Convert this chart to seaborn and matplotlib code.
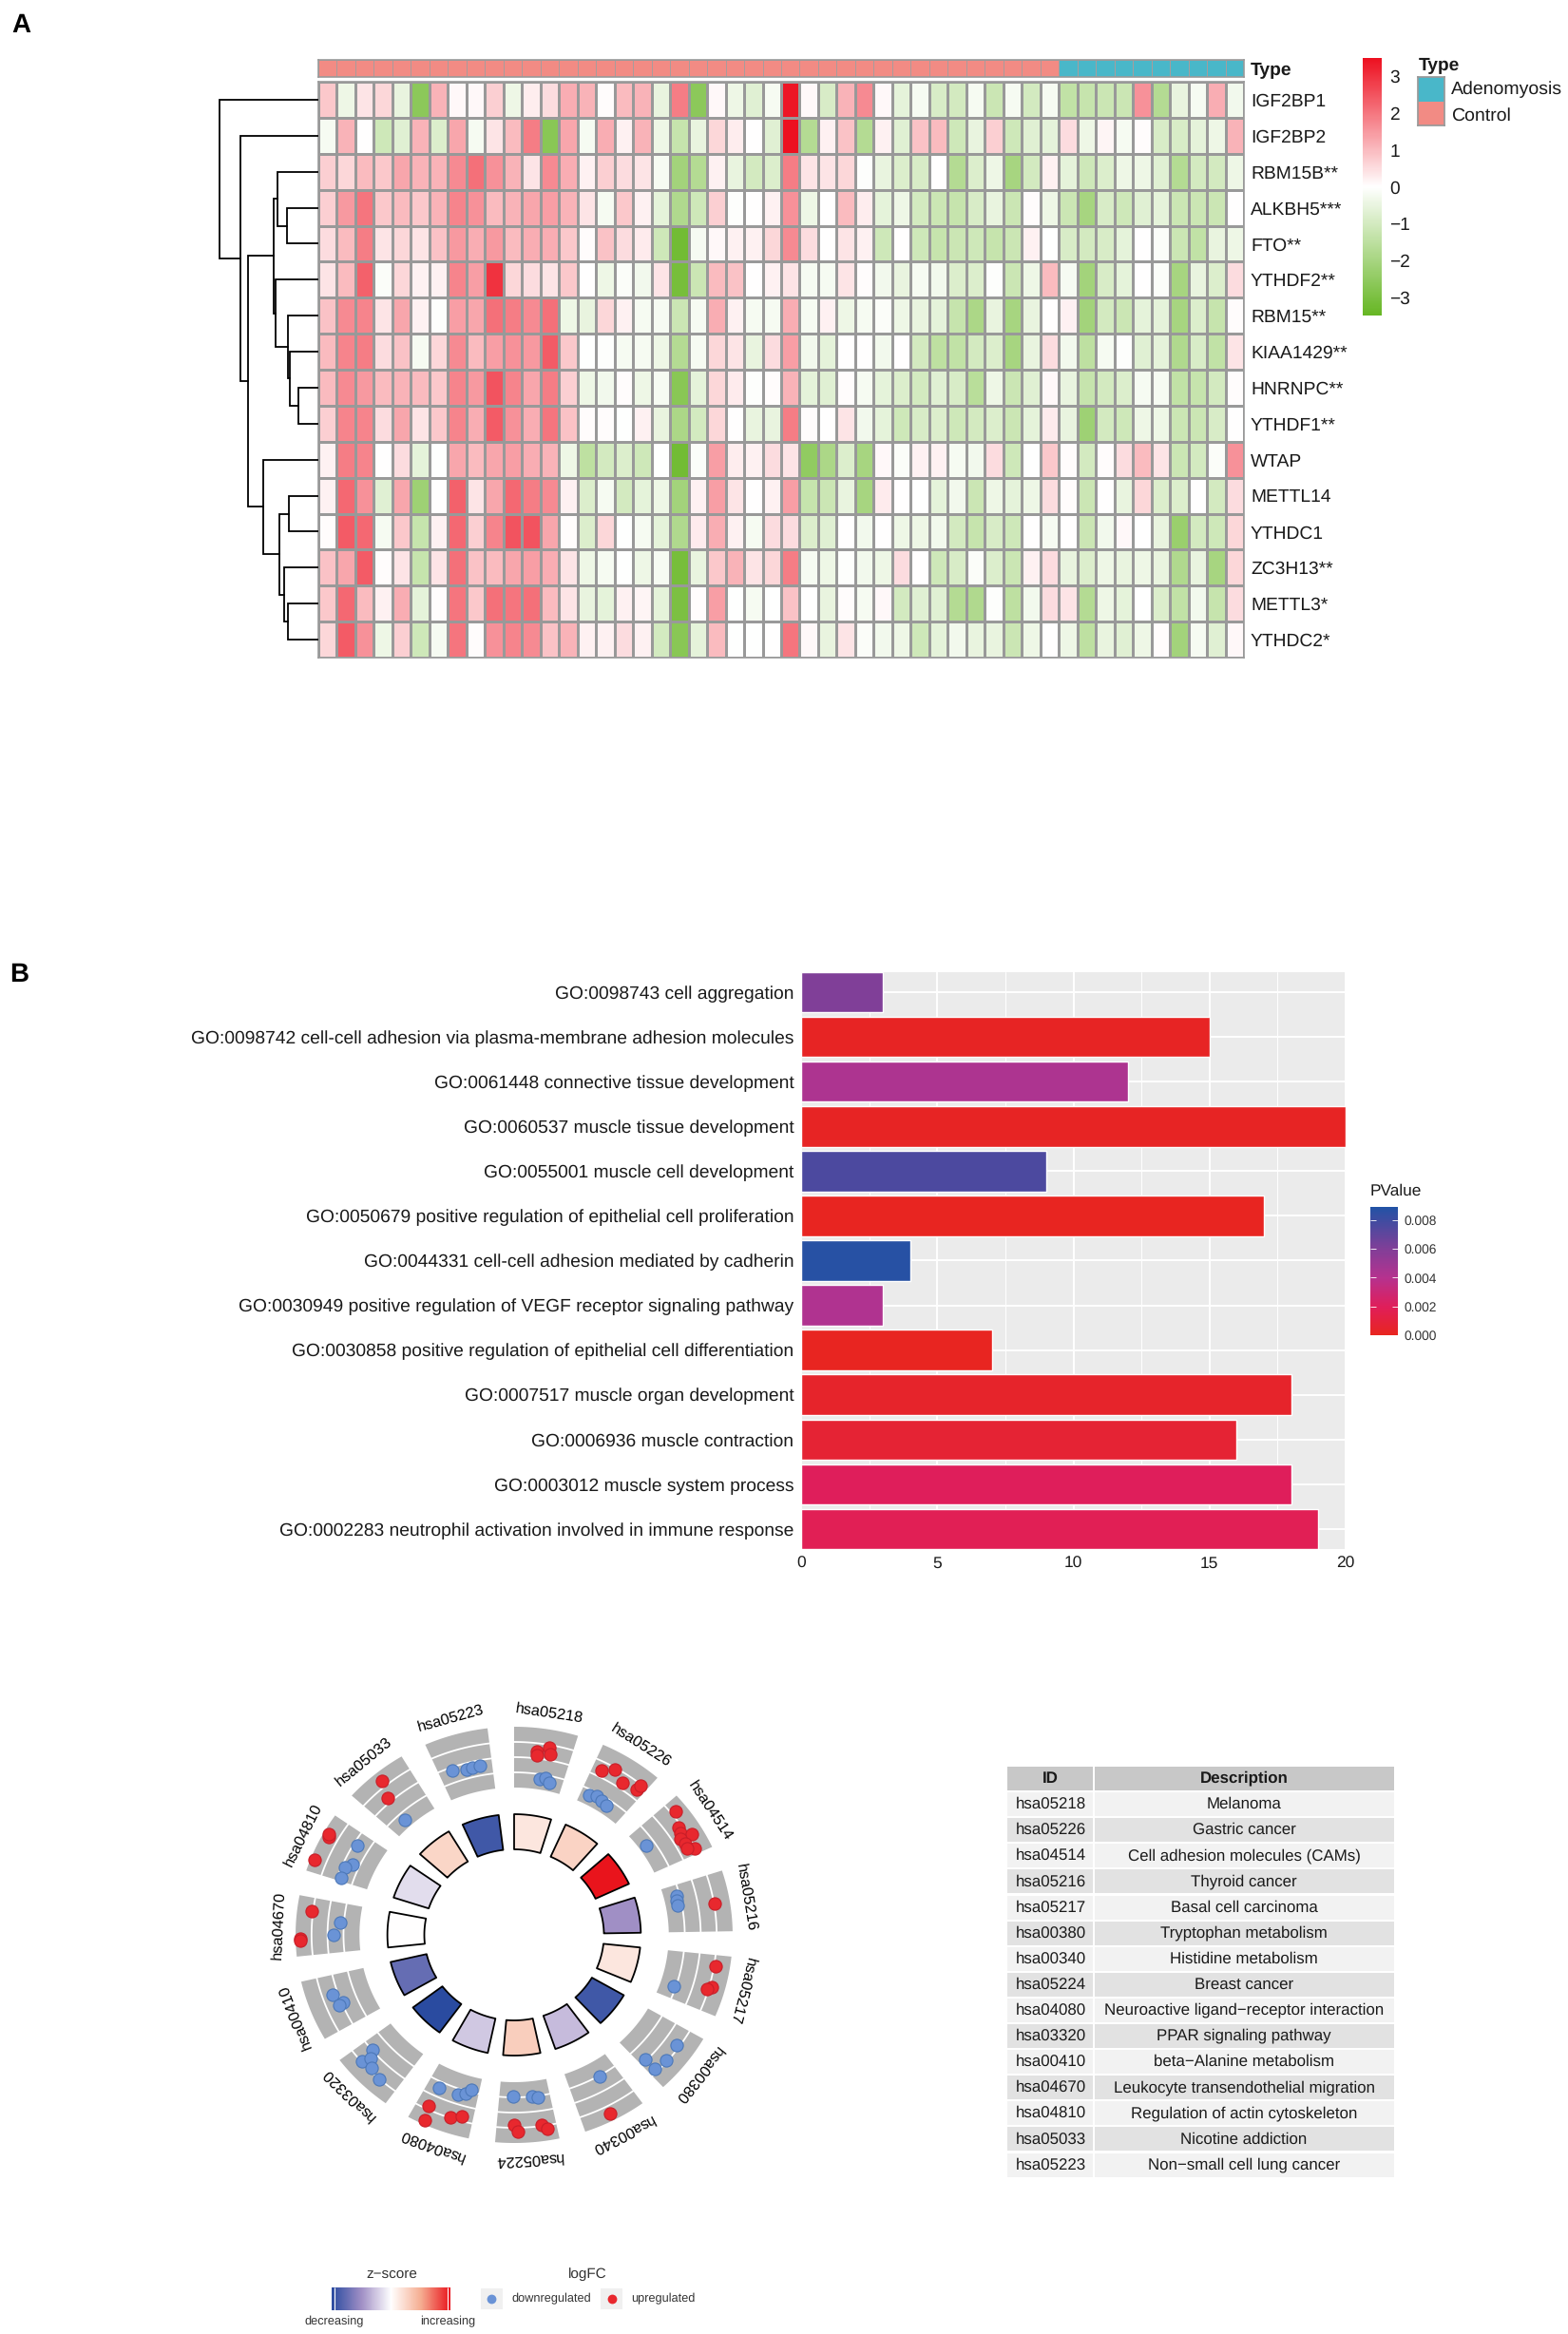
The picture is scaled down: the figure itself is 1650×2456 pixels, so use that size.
"""Three panel figure: m6A regulator heatmap, GO bars and KEGG circle with table."""

import math

import matplotlib
matplotlib.use("Agg")
import matplotlib.pyplot as plt
import numpy as np
import pandas as pd
import seaborn as sns
from matplotlib.cm import ScalarMappable
from matplotlib.colors import LinearSegmentedColormap, ListedColormap, Normalize
from matplotlib.patches import Rectangle

GENES = ["IGF2BP1", "IGF2BP2", "RBM15B**", "ALKBH5***", "FTO**", "YTHDF2**", "RBM15**", "KIAA1429**",
         "HNRNPC**", "YTHDF1**", "WTAP", "METTL14", "YTHDC1", "ZC3H13**", "METTL3*", "YTHDC2*"]
SAMPLE_TYPE = [1] * 40 + [0] * 10
TYPE_NAMES = ["Adenomyosis", "Control"]

EXPR_IGF2BP1 = [.8, -.4, .4, .6, -.5, -2.6, 1.1, .1, .1, .7, -.4, .25, .5, 1.2, 1.1, .05, 1.0, 1.1, -.5, 1.9, -2.6, .1,
                -.4, -.7, -.2, 3.4, .1, -.9, 1.1, 1.7, .1, -.6, -.2, -.9, -1, -.2, -1.2, -.2, -1, -.2, -1.4, -1.3, -1.2, -1.2, 1.6, -1.7, -.5, -.2, 1.2, -.3]
EXPR_IGF2BP2 = [-.2, 1.1, .02, -1.1, -.7, 1.1, -.8, 1.3, -.2, .4, 1, 1.9, -2.7, 1.3, -.2, 1.2, .2, 1.1, -.4, -1.3, -.5, .6,
                .25, 0, -.7, 3.6, -1.7, .2, .9, -1.7, .2, -.7, .9, 1, -1.1, -.5, .7, -1.1, -.7, -.6, .5, -.4, .15, -.2, .05, -.9, -.9, -.6, -.4, 1.1]
EXPR_RBM15B = [.7, .6, 1, .8, 1.3, 1.1, 1.1, 1.7, 2.1, 1.6, 1.1, .4, 1.7, 1.2, .2, .7, .5, .4, -.2, -2.1, -1.7, .2,
               -.5, -1, -.8, 1.9, .4, .4, .6, -.05, -.5, -.8, -.9, 0, -1.7, -.8, -.4, -2, -1, .2, -.6, -1.1, -.8, -.4, -.4, -.7, -1.7, -1, -1, -.4]
EXPR_ALKBH5 = [.7, 1.5, 2, .8, 1, .8, 1.1, 1.8, 1.6, 1, 1.1, 1.3, 1.4, 1.1, .4, -.2, .8, .2, -.6, -1.8, -1.1, .7,
               -.05, 0, .2, 1.6, -.4, 0, 1, .25, -.6, -.4, -1, -1.2, -1.3, -.9, -.5, -1.2, .05, -.4, -1.2, -2, -.9, -1.1, -.7, -.6, -1.2, -1.2, -1.2, 0]
EXPR_FTO = [.5, 1, 1.9, .4, .6, .4, .9, 1.5, 1.2, 1.5, 1, 1.2, 1.2, .8, .05, .9, .5, .3, -1.1, -3.2, -.2, .1,
            .2, .2, .6, 1.7, .5, 0, .4, .2, -1.1, 0, -1.1, -1.3, -1.2, -1.1, -1.3, -1.2, .2, -.02, -.9, -1, -.9, -.6, 0, -.1, -1.2, -1.4, -.5, -.4]
EXPR_YTHDF2 = [.4, 1, 2.3, -.1, .6, .2, .2, 1.8, 1.4, 3, .6, .5, .4, .8, 0, -.4, -.1, -.3, .4, -3.1, -1.2, 1,
               .9, 0, .2, .4, -.2, -.2, .4, .05, -.3, -.5, -.2, -.3, -.8, -.8, -.05, -1.2, -.4, 1, -.2, -2.1, -.9, -.6, 0, -.1, -2, -.5, -.8, .5]
EXPR_RBM15 = [.9, 1.7, 1.8, .4, 1.3, .2, -.05, 1.4, 1.3, 2.1, 1.9, 1.7, 2.1, -.4, -.5, .6, .2, -.2, -.2, -1.2, -.2, 1.2,
              .2, -.2, -.2, 1.2, -.2, .2, -.4, -.2, -.1, -.4, -.5, -.6, -1.3, -1.9, -.5, -2, -.5, 0, .2, -2.1, -1, -1.2, -.6, -.6, -2, -.8, -1.3, .05]
EXPR_KIAA1429 = [1, 1.8, 1.9, .5, .9, -.2, .6, 1.7, 1, 1.4, 1.6, 1.5, 2.4, .8, -.02, -.05, -.2, -.2, -.4, -1.7, -.2, .6,
                 .4, -.5, .5, 1.4, -.3, -.6, 0, 0, -.3, 0, -1, -1.5, -1.4, -1, -.8, -2, -.5, .5, -.3, -1.5, -.2, -.05, -.7, -.6, -1.8, -.9, -1.4, .4]
EXPR_HNRNPC = [1, 1.7, 1.5, 1, 1.1, 1, .8, 1.8, 1.5, 2.5, 1.8, 1.3, 1.9, .7, -.4, -.3, .05, -.4, -.2, -2.7, -.6, .6,
               .3, -.05, .05, 1.1, -.6, -.7, .05, -.2, -.6, -.8, -1, -.7, -.9, -1.6, -.4, -1.2, -.7, .1, -.5, -1.3, -1, -.8, -.2, -.2, -1.4, -1.3, -1, .05]
EXPR_YTHDF1 = [.7, 1.8, 1.8, .5, 1.3, .4, .8, 1.8, 1.2, 2.4, 1.6, 1.2, 2, .9, .05, .05, -.02, .2, -.5, -1.9, -1, .6,
               0, -.5, -.5, 1.9, .05, 0, .4, -.3, -.6, -1.1, -.9, -.8, -1.1, -1, -.8, -1.2, -.6, .3, -.5, -2.2, -1, -1.1, -.4, -.4, -1.2, -1.2, -.9, 0]
EXPR_WTAP = [.2, 1.9, 1.8, 0, .5, -.6, -.02, 1.3, 1, 1.3, 1.4, 1.2, 1.1, -.4, -1.5, -1, -.8, -1.1, -.02, -3.2, -.1, 1.4,
             .25, .2, .5, .4, -2.5, -1.9, -.8, -2, .1, -.1, .2, .2, -.2, -.3, .5, -1.1, -.02, .8, .05, -1, .05, .5, 1, .4, -1.2, -1, -.1, 1.6]
EXPR_METTL14 = [.2, 2.2, 1.6, -.7, 1.3, -2.2, 0, 2.3, .4, 1.3, 2.2, 1.9, 1.7, .2, -.8, -.2, -1, -.6, -.4, -2.1, .2, 1.4,
                .4, 0, .2, 1.4, -1.3, -1.2, -.5, -2, .3, 0, -.02, -.6, -.3, -1.2, -.4, -.6, -.4, .5, .05, -1.2, .02, -.5, .6, -.8, -.8, .02, -1, .5]
EXPR_YTHDC1 = [.05, 2.4, 2.2, -.2, .8, -1.3, .2, 2.2, .7, 1.8, 2.5, 2.5, 1.3, .03, -.8, .6, -.02, -.2, -.6, -1.8, .3, 1.2,
               .2, -.2, .5, .5, -.8, -.7, .02, -.3, 0, -.4, -.4, -.3, -1, -1.3, -.9, -1.1, 0, -.2, .02, -1.2, -.3, .1, 0, -.5, -2.3, -1, -1.1, .6]
EXPR_ZC3H13 = [.9, 1.3, 2.4, .05, .4, -1.3, .4, 2.1, .9, 1, 1.3, 1.4, 1.2, .4, -.4, -.2, -.02, -.4, -.2, -3.1, -.5, .8,
               1.1, .4, .6, 1.9, -.2, -.4, -.05, -.3, -.4, .5, .02, -1.1, -.9, -.1, -.8, -1.2, .2, .5, -.5, -.8, -.4, -.5, -.4, -.5, -1.8, -.5, -2, .6]
EXPR_METTL3 = [.8, 2.2, 1, .2, 1.2, -.6, .05, 2, .8, 2.1, 2, 2.1, 1, .4, -.5, -.6, .2, .15, -.6, -3, .05, 1.4,
               -.02, -.2, -.02, .9, 0, -.5, .05, -.2, .1, -1, -.7, -.7, -1.7, -1.8, -.05, -1.5, -.3, .5, .4, -1.7, -.4, -.6, -.02, -.8, -1.4, -.3, -1.3, .5]
EXPR_YTHDC2 = [.6, 2.4, 1.6, -.4, .7, -1.1, -.2, 2, .05, 1.6, 1.8, 1.7, .9, 1.1, .2, .2, .5, .2, -1, -2.7, -.6, 1,
               -.02, -.01, .02, 2, .1, -.5, .4, -.1, -.3, -.4, -1.1, -.6, -.3, -.5, -.5, -1.2, -.4, .02, -.4, -1.5, -.5, -.7, -.4, .03, -2.1, -.2, -.7, .1]

# dendrogram merges, leaves are 0-15 and every merge gets the next id
MERGE_LEFT = [3, 2, 8, 7, 6, 5, 17, 11, 14, 13, 23, 10, 22, 1, 0]
MERGE_RIGHT = [4, 16, 9, 18, 19, 20, 21, 12, 15, 24, 25, 26, 27, 28, 29]
MERGE_HEIGHT = [3.3, 4.3, 2.1, 3.0, 3.2, 4.5, 4.7, 3.1, 3.2, 3.6, 4.1, 5.8, 7.4, 8.2, 10.4]

GO_TERMS = ["GO:0098743 cell aggregation",
            "GO:0098742 cell-cell adhesion via plasma-membrane adhesion molecules",
            "GO:0061448 connective tissue development",
            "GO:0060537 muscle tissue development",
            "GO:0055001 muscle cell development",
            "GO:0050679 positive regulation of epithelial cell proliferation",
            "GO:0044331 cell-cell adhesion mediated by cadherin",
            "GO:0030949 positive regulation of VEGF receptor signaling pathway",
            "GO:0030858 positive regulation of epithelial cell differentiation",
            "GO:0007517 muscle organ development",
            "GO:0006936 muscle contraction",
            "GO:0003012 muscle system process",
            "GO:0002283 neutrophil activation involved in immune response"]
GO_COUNTS = [3, 15, 12, 20, 9, 17, 4, 3, 7, 18, 16, 18, 19]
GO_PVALUES = [.0060, .0002, .0043, .0002, .0076, .0001, .0087, .0042, .0001, .0004, .0007, .0020, .0018]

KEGG_IDS = ["hsa05218", "hsa05226", "hsa04514", "hsa05216", "hsa05217", "hsa00380", "hsa00340", "hsa05224",
            "hsa04080", "hsa03320", "hsa00410", "hsa04670", "hsa04810", "hsa05033", "hsa05223"]
KEGG_DESC = ["Melanoma", "Gastric cancer", "Cell adhesion molecules (CAMs)", "Thyroid cancer", "Basal cell carcinoma",
             "Tryptophan metabolism", "Histidine metabolism", "Breast cancer",
             "Neuroactive ligand\u2212receptor interaction", "PPAR signaling pathway", "beta\u2212Alanine metabolism",
             "Leukocyte transendothelial migration", "Regulation of actin cytoskeleton", "Nicotine addiction",
             "Non\u2212small cell lung cancer"]
KEGG_ZSCORE = [.15, .27, 1, -.5, .15, -.9, -.3, .3, -.25, -1, -.75, 0, -.15, .25, -.9]

# genes on the circle: term index, offset inside the sector (deg), logFC, up or down
GENE_TERM = [0] * 7 + [1] * 9 + [2] * 9 + [3] * 4 + [4] * 4 + [5] * 4 + [6] * 2 + [7] * 7 + [8] * 8 + [9] * 5 \
    + [10] * 3 + [11] * 5 + [12] * 7 + [13] * 3 + [14] * 4
GENE_OFFSET = [6.8, 7, 10.1, 10.8, 9, 10.8, 12.3,
               2.8, 6.1, 10, 14.8, 14.8, 3, 5.5, 8, 10,
               3.1, 7.7, 9.3, 11.2, 10.8, 12.8, 15.2, 14.3, 6.7,
               3.7, 5.7, 7.4, 8.8,
               3.2, 9.6, 10.5, 12.7,
               5.3, 10.8, 15, 15.1,
               6.1, 8.9,
               12.2, 5.8, 4, 11.9, 10.9, 4, 2.7,
               13.1, 6.5, 4.3, 2.7, 13.4, 12.6, 6.4, 3.4,
               13, 13.5, 11.9, 9.5, 5.7,
               10.9, 7.4, 7,
               13, 4.8, 4.4, 10.3, 6,
               11.1, 11.7, 3.5, 13, 6.6, 4.7, 1,
               8.7, 6.6, 5.8,
               4.3, 8.8, 10.7, 13]
GENE_LOGFC = [.45, .2, .8, .38, -1.3, -1.2, -1.45,
              .42, .88, .4, .57, .94, -1.36, -1.23, -1.33, -1.4,
              1.29, .81, .71, 1.26, .49, .61, .95, .54, -1.54,
              -1.21, -1.25, -1.25, 1.04,
              1.09, 1.16, .92, -1.13,
              .81, .9, -.1, .78,
              -.92, 1.5,
              -1.04, -.98, -.88, .8, 1.27, .92, 1.23,
              -.6, -.62, -.82, -1.18, .78, 1.75, .95, .71,
              .96, 0, .4, .8, 1.02,
              .32, -.1, .2,
              1.09, 1.7, 1.72, -.74, -.35,
              1.57, 1.65, 1.77, -.26, -.55, -.22, -.24,
              1.37, .27, -1.46,
              -.22, -.44, -.38, -.38]
GENE_UP = [1, 1, 1, 1, 0, 0, 0,
           1, 1, 1, 1, 1, 0, 0, 0, 0,
           1, 1, 1, 1, 1, 1, 1, 1, 0,
           0, 0, 0, 1,
           1, 1, 1, 0,
           0, 0, 0, 0,
           0, 1,
           0, 0, 0, 1, 1, 1, 1,
           0, 0, 0, 0, 1, 1, 1, 1,
           0, 0, 0, 0, 0,
           0, 0, 0,
           1, 1, 1, 0, 0,
           1, 1, 1, 0, 0, 0, 0,
           1, 1, 0,
           0, 0, 0, 0]

W, H = 1650, 2456

HEAT_CMAP = LinearSegmentedColormap.from_list("expr", ["#66B623", "#FFFFFF", "#ED1020"])
P_CMAP = LinearSegmentedColormap.from_list(
    "pval", [(0, "#E8251F"), (.22, "#E01E5A"), (.45, "#B5328F"), (.68, "#7F3F98"), (1, "#2152A5")])
Z_CMAP = LinearSegmentedColormap.from_list(
    "zscore", [(0, "#2A4BA0"), (.25, "#A08FC5"), (.5, "#FFFFFF"), (.75, "#F5AE92"), (1, "#E9141C")])
TEXT = "#1a1a1a"


def px_axes(fig, x0, y0, x1, y1):
    return fig.add_axes([x0 / W, 1 - y1 / H, (x1 - x0) / W, (y1 - y0) / H])


def plot_heatmap(fig):
    top, bottom, left, right = 86, 692, 335, 1309
    matrix = np.array([EXPR_IGF2BP1, EXPR_IGF2BP2, EXPR_RBM15B, EXPR_ALKBH5, EXPR_FTO, EXPR_YTHDF2, EXPR_RBM15,
                       EXPR_KIAA1429, EXPR_HNRNPC, EXPR_YTHDF1, EXPR_WTAP, EXPR_METTL14, EXPR_YTHDC1, EXPR_ZC3H13,
                       EXPR_METTL3, EXPR_YTHDC2])

    ax = px_axes(fig, left, top, right, bottom)
    sns.heatmap(matrix, ax=ax, cmap=HEAT_CMAP, vmin=-3.5, vmax=3.5, cbar=False, linewidths=1.0,
                linecolor="#999999", xticklabels=False, yticklabels=GENES)
    ax.yaxis.tick_right()
    ax.tick_params(axis="y", length=0, pad=5, labelrotation=0, labelsize=13.9, labelcolor=TEXT)
    for spine in ax.spines.values():
        spine.set_visible(True)
        spine.set_color("#999999")
        spine.set_linewidth(1.2)

    bar = px_axes(fig, left, 63, right, 81)
    sns.heatmap(np.array([SAMPLE_TYPE]), ax=bar, cmap=ListedColormap(["#49B7C9", "#F28B84"]), vmin=0, vmax=1,
                cbar=False, linewidths=0.7, linecolor="#A89C9C", xticklabels=False, yticklabels=["Type"])
    bar.yaxis.tick_right()
    bar.tick_params(axis="y", length=0, pad=5, labelrotation=0, labelsize=13.9, labelcolor=TEXT)
    bar.get_yticklabels()[0].set_fontweight("bold")
    for spine in bar.spines.values():
        spine.set_visible(True)
        spine.set_color("#999999")
        spine.set_linewidth(1.2)

    # dendrogram on the left, one height unit is 10 px
    den = px_axes(fig, 220, top, left, bottom)
    pos = {i: i + 0.5 for i in range(len(GENES))}
    depth = {i: 0.0 for i in range(len(GENES))}
    for idx, (a, b, h) in enumerate(zip(MERGE_LEFT, MERGE_RIGHT, MERGE_HEIGHT)):
        den.plot([depth[a], h, h, depth[b]], [pos[a], pos[a], pos[b], pos[b]], color="black", lw=1.3,
                 solid_joinstyle="miter")
        node = len(GENES) + idx
        pos[node] = (pos[a] + pos[b]) / 2
        depth[node] = h
    den.set_xlim(11.5, 0)
    den.set_ylim(16, 0)
    den.axis("off")

    cax = px_axes(fig, 1434, 61, 1454, 332)
    cbar = fig.colorbar(ScalarMappable(Normalize(-3.5, 3.5), HEAT_CMAP), cax=cax)
    cbar.set_ticks([-3, -2, -1, 0, 1, 2, 3])
    cbar.set_ticklabels(["\u22123", "\u22122", "\u22121", "0", "1", "2", "3"])
    cbar.ax.tick_params(length=0, pad=6, labelsize=13.8, labelcolor=TEXT)
    cbar.outline.set_visible(False)

    fig.text(1493 / W, 1 - 69 / H, "Type", fontsize=13.8, fontweight="bold", va="center", color=TEXT)
    leg = px_axes(fig, 1492, 81, 1520, 132)
    sns.heatmap(np.array([[0], [1]]), ax=leg, cmap=ListedColormap(["#49B7C9", "#F28B84"]), cbar=False,
                xticklabels=False, yticklabels=False)
    for spine in leg.spines.values():
        spine.set_visible(True)
        spine.set_color("#999999")
    for name, ypx in zip(TYPE_NAMES, [94.5, 121.5]):
        fig.text(1527 / W, 1 - ypx / H, name, fontsize=14, va="center", color=TEXT)


def plot_go_bars(fig):
    ax = px_axes(fig, 843, 1023, 1416, 1630)
    norm = Normalize(0, .0089)
    df = pd.DataFrame({"term": GO_TERMS, "count": GO_COUNTS, "p": GO_PVALUES})
    colors = [P_CMAP(norm(p)) for p in df["p"]]
    ax.set_facecolor("#EBEBEB")
    sns.barplot(data=df, x="count", y="term", hue="term", palette=colors, dodge=False, legend=False, width=.9,
                saturation=1, ax=ax, zorder=3)
    ax.set_xlim(0, 20)
    ax.set_ylim(12.45, -0.45)
    ax.set_xlabel("")
    ax.set_ylabel("")
    ax.set_xticks([0, 5, 10, 15, 20])
    ax.set_xticks([2.5, 7.5, 12.5, 17.5], minor=True)
    ax.set_axisbelow(True)
    ax.grid(axis="x", which="major", color="white", lw=1.4, zorder=1)
    ax.grid(axis="x", which="minor", color="white", lw=.7, zorder=1)
    ax.grid(axis="y", which="major", color="white", lw=1.4, zorder=1)
    ax.tick_params(axis="x", which="minor", length=0)
    ax.tick_params(axis="both", which="major", length=3.5, width=.9, color="#555555", labelcolor=TEXT, pad=2)
    ax.tick_params(axis="y", labelsize=13.85)
    ax.tick_params(axis="x", labelsize=12.5)
    sns.despine(ax=ax, left=True, bottom=True)

    cax = px_axes(fig, 1442, 1270, 1471, 1405)
    cbar = fig.colorbar(ScalarMappable(norm, P_CMAP), cax=cax)
    ticks = [0, .002, .004, .006, .008]
    cbar.set_ticks(ticks)
    cbar.set_ticklabels(["0.000", "0.002", "0.004", "0.006", "0.008"])
    cbar.ax.tick_params(length=0, pad=5, labelsize=9.9, labelcolor="#333333")
    cbar.outline.set_visible(False)
    for tick in ticks:
        cbar.ax.hlines([tick, tick], [0, .8], [.2, 1], transform=cbar.ax.get_yaxis_transform(), color="white", lw=.6)
    fig.text(1442 / W, 1 - 1253 / H, "PValue", fontsize=12.4, va="center", color=TEXT)


def sector_polygon(start, stop, r0, r1):
    angles = np.radians(np.linspace(start, stop, 30))
    xs = np.concatenate([r1 * np.sin(angles), r0 * np.sin(angles[::-1])])
    ys = np.concatenate([r1 * np.cos(angles), r0 * np.cos(angles[::-1])])
    return xs, ys


def plot_circle(fig):
    cx, cy = 541, 2036
    stretch = 1.05
    band_r, band_w = 187, 16
    pitch, span = 24, 17
    ax = px_axes(fig, 240, 1790, 850, 2290)
    ax.set_xlim((240 - cx) / stretch, (850 - cx) / stretch)
    ax.set_ylim(cy - 2290, cy - 1790)
    ax.axis("off")

    z_norm = Normalize(-1, 1)
    for i, (kegg_id, z) in enumerate(zip(KEGG_IDS, KEGG_ZSCORE)):
        start = i * pitch
        xs, ys = sector_polygon(start, start + span, 90, 127)
        ax.fill(xs, ys, facecolor=Z_CMAP(z_norm(z)), edgecolor="black", lw=1.3, joinstyle="round")
        xs, ys = sector_polygon(start, start + span, band_r - 2 * band_w, band_r + 2 * band_w)
        ax.fill(xs, ys, facecolor="#B3B3B3", edgecolor="none")
        for level in (-1, 0, 1):
            arc = np.radians(np.linspace(start, start + span, 20))
            r = band_r + level * band_w
            ax.plot(r * np.sin(arc), r * np.cos(arc), color="white", lw=1.3)
        mid = math.radians(start + span / 2)
        ax.text(236 * math.sin(mid), 236 * math.cos(mid), kegg_id, rotation=-(start + span / 2),
                rotation_mode="anchor", ha="center", va="center", fontsize=11.8, color="black")

    df = pd.DataFrame({"term": GENE_TERM, "offset": GENE_OFFSET, "logfc": GENE_LOGFC, "up": GENE_UP})
    theta = np.radians(df["term"] * pitch + df["offset"])
    radius = band_r + df["logfc"] * band_w
    df["x"] = radius * np.sin(theta)
    df["y"] = radius * np.cos(theta)
    for up, fill, edge in [(0, "#6A93D6", "#4C78B8"), (1, "#E8282E", "#C81E28")]:
        sns.scatterplot(data=df[df["up"] == up], x="x", y="y", color=fill, edgecolor=edge, s=90, linewidth=.8,
                        legend=False, ax=ax, zorder=4, clip_on=False)
    ax.set_xlabel("")
    ax.set_ylabel("")

    # bottom legend
    fig.text(412 / W, 1 - 2393 / H, "z\u2212score", fontsize=11, ha="center", va="center", color="#333333")
    cax = px_axes(fig, 349, 2407, 474, 2431)
    cbar = fig.colorbar(ScalarMappable(z_norm, Z_CMAP), cax=cax, orientation="horizontal")
    cbar.set_ticks([])
    cbar.outline.set_visible(False)
    cax.vlines([-.95, .95], 0, 1, transform=cax.get_xaxis_transform(), color="white", lw=.8)
    fig.text(352 / W, 1 - 2443 / H, "decreasing", fontsize=9.2, ha="center", va="center", color="#333333")
    fig.text(471 / W, 1 - 2443 / H, "increasing", fontsize=9.2, ha="center", va="center", color="#333333")
    fig.text(618 / W, 1 - 2393 / H, "logFC", fontsize=11, ha="center", va="center", color="#333333")
    for x0, fill, label in [(506, "#6A93D6", "downregulated"), (632, "#E8282E", "upregulated")]:
        key = px_axes(fig, x0, 2408, x0 + 23, 2430)
        key.set_facecolor("#F0F0F0")
        key.set_xlim(0, 1)
        key.set_ylim(0, 1)
        key.set_xticks([])
        key.set_yticks([])
        sns.despine(ax=key, left=True, bottom=True)
        sns.scatterplot(x=[.5], y=[.5], color=fill, s=50, linewidth=0, legend=False, ax=key)
        key.set_xlim(0, 1)
        key.set_ylim(0, 1)
        fig.text((x0 + 32) / W, 1 - 2419 / H, label, fontsize=9.2, va="center", color="#333333")


def plot_table(fig):
    left, split, right, top = 1060, 1151, 1467, 1858
    row_h = 27.1
    ax = px_axes(fig, left, top, right, top + 16 * row_h)
    ax.set_xlim(left, right)
    ax.set_ylim(16, 0)
    ax.axis("off")
    rows = [("ID", "Description")] + list(zip(KEGG_IDS, KEGG_DESC))
    for i, (first, second) in enumerate(rows):
        color = "#C8C8C8" if i == 0 else ("#F2F2F2" if i % 2 else "#E2E2E2")
        weight = "bold" if i == 0 else "normal"
        ax.add_patch(Rectangle((left, i + .04), split - left - 1, .92, facecolor=color, edgecolor="none"))
        ax.add_patch(Rectangle((split + 1, i + .04), right - split - 1, .92, facecolor=color, edgecolor="none"))
        ax.text((left + split) / 2, i + .5, first, ha="center", va="center", fontsize=12.2, fontweight=weight,
                color=TEXT)
        ax.text((split + right) / 2, i + .5, second, ha="center", va="center", fontsize=12.2, fontweight=weight,
                color=TEXT)


def main():
    sns.set_theme(style="white")
    plt.rcParams["font.family"] = ["Liberation Sans", "DejaVu Sans"]
    plt.rcParams["text.hinting"] = "no_hinting"

    fig = plt.figure(figsize=(W / 100, H / 100), dpi=100, facecolor="white")
    plot_heatmap(fig)
    plot_go_bars(fig)
    plot_circle(fig)
    plot_table(fig)
    fig.text(12 / W, 1 - 27 / H, "A", fontsize=20, fontweight="bold", va="center", color="black")
    fig.text(10 / W, 1 - 1026 / H, "B", fontsize=20, fontweight="bold", va="center", color="black")
    fig.savefig("out.png", dpi=100, facecolor="white")


main()
